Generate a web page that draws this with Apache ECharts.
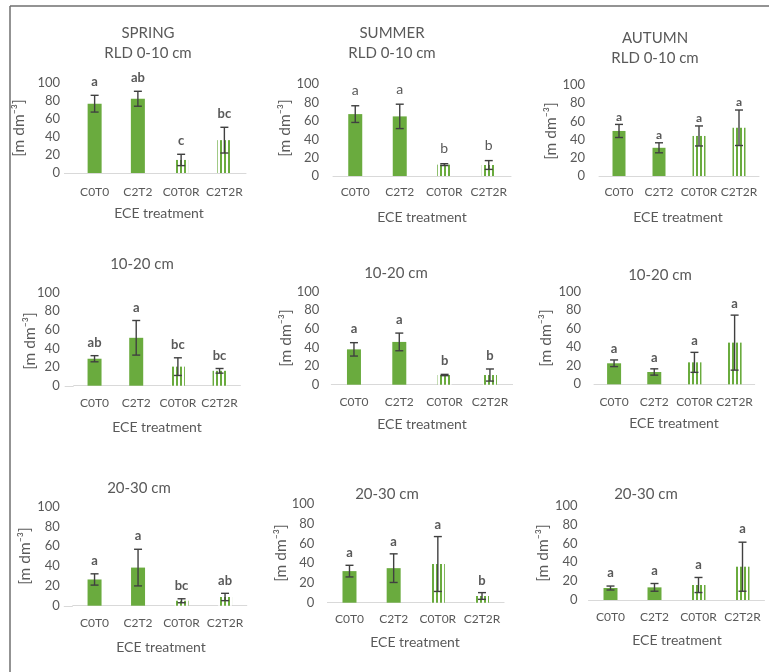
<!DOCTYPE html>
<html>
<head>
<meta charset="utf-8">
<script src="https://cdn.jsdelivr.net/npm/echarts@6/dist/echarts.min.js"></script>
<style>
  html, body { margin: 0; padding: 0; background: #fff; }
  #chart { width: 769px; height: 672px; }
</style>
</head>
<body>
<div id="chart"></div>
<script>
// Root length density (RLD) by season, soil depth and ECE treatment
const treatments = ['C0T0', 'C2T2', 'C0T0R', 'C2T2R'];
const seasons = ['SPRING', 'SUMMER', 'AUTUMN'];
const depthTitles = ['RLD 0-10 cm', '10-20 cm', '20-30 cm'];
const yTicks = [0, 20, 40, 60, 80, 100];

// means [depth][treatment]
const springMean = [[77, 82.5, 14.5, 36.5], [29, 51.5, 20.5, 16], [26.5, 38.5, 5, 8.8]];
const summerMean = [[67.5, 65, 12.4, 12], [38, 46, 10.4, 10.4], [32, 35, 39.2, 6.8]];
const autumnMean = [[49.5, 31, 44, 53], [22.7, 13.3, 23.7, 45], [12.7, 13.4, 15.9, 35.3]];

// error bar half-widths [depth][treatment]
const springErr = [[9.3, 8.3, 6.3, 14.3], [3.3, 18.6, 9.5, 2.5], [5.7, 18.5, 2, 3.7]];
const summerErr = [[9.1, 13.3, 1, 4.8], [7.2, 9.5, 0.7, 6.5], [5.9, 14.5, 27.8, 3.4]];
const autumnErr = [[7.2, 5.5, 11, 19.5], [3.6, 3.4, 10.8, 29.7], [2.1, 4.1, 8, 26]];

// significance letters [depth][treatment]
const springLetters = [['a', 'ab', 'c', 'bc'], ['ab', 'a', 'bc', 'bc'], ['a', 'a', 'bc', 'ab']];
const summerLetters = [['a', 'a', 'b', 'b'], ['a', 'a', 'b', 'b'], ['a', 'a', 'a', 'b']];
const autumnLetters = [['a', 'a', 'a', 'a'], ['a', 'a', 'a', 'a'], ['a', 'a', 'a', 'a']];

const means = [springMean, summerMean, autumnMean];
const errs = [springErr, summerErr, autumnErr];
const letters = [springLetters, summerLetters, autumnLetters];

const GREEN = '#6aab3e';
const TEXT = '#595959';
const FONT = 'Lato, "Liberation Sans", sans-serif';

// plot boxes [depth][season]; ext = how far the category axis line runs left of the plot
const boxes = [
  [
    { left: 73, top: 83, width: 173, height: 90, xl: 13.5, yl: 13, gap: 13.5, ext: 9, title: [148, 33], yname: [19, 128], xname: [159, 213] },
    { left: 333, top: 84.3, width: 178, height: 91.7, xl: 10.5, yl: 14, gap: 15, ext: 0, title: [392, 33], yname: [285, 128], xname: [422, 217], plain: true },
    { left: 599, top: 85, width: 160, height: 91, xl: 10.5, yl: 14, gap: 7.5, ext: 0, title: [655, 38], yname: [551, 131], xname: [678, 217], small: true }
  ],
  [
    { left: 73.7, top: 292.7, width: 166.7, height: 93, xl: 11.5, yl: 14, gap: 12.5, ext: 9, title: [142, 264], yname: [30, 341], xname: [157, 427] },
    { left: 331.3, top: 291.7, width: 181.3, height: 93, xl: 11.5, yl: 12, gap: 13.5, ext: 0, title: [396, 273], yname: [286, 338], xname: [422, 424] },
    { left: 594, top: 291.7, width: 160.7, height: 92.6, xl: 12, yl: 13, gap: 11.5, ext: 0, title: [660, 275], yname: [546, 338], xname: [674, 423] }
  ],
  [
    { left: 72.8, top: 506.7, width: 174, height: 99, xl: 11.5, yl: 13, gap: 13, ext: 9, title: [139, 488], yname: [25, 556], xname: [161, 647] },
    { left: 327.4, top: 504, width: 176.7, height: 98.7, xl: 10.5, yl: 13, gap: 12, ext: 0, title: [387, 494], yname: [281, 553], xname: [415, 642] },
    { left: 588.5, top: 505.7, width: 176, height: 94.3, xl: 11.5, yl: 11, gap: 13, ext: 0, title: [646, 494], yname: [543, 553], xname: [677, 640] }
  ]
];

// vertical stripe fill for the "R" treatments
function stripes() {
  const c = document.createElement('canvas');
  c.width = 4; c.height = 4;
  const ctx = c.getContext('2d');
  ctx.fillStyle = '#ffffff';
  ctx.fillRect(0, 0, 4, 4);
  ctx.fillStyle = GREEN;
  ctx.fillRect(0, 0, 2, 4);
  return c;
}
const stripeFill = { image: stripes(), repeat: 'repeat' };

const grid = [], xAxis = [], yAxis = [], series = [], graphic = [];

graphic.push({ type: 'line', shape: { x1: 10, y1: 6, x2: 769, y2: 6 }, style: { stroke: '#6f6f6f', lineWidth: 1.5 } });
graphic.push({ type: 'line', shape: { x1: 10, y1: 6, x2: 10, y2: 672 }, style: { stroke: '#6f6f6f', lineWidth: 1.5 } });

function label(x, y, text, font, rotation) {
  graphic.push({
    type: 'text', x: x, y: y, rotation: rotation || 0,
    style: { text: text, font: font, fill: TEXT, textAlign: 'center', textVerticalAlign: 'middle', align: 'center', verticalAlign: 'middle' }
  });
}

let idx = 0;
for (let d = 0; d < 3; d++) {
  for (let s = 0; s < 3; s++) {
    const b = boxes[d][s];
    grid.push({ left: b.left, top: b.top, width: b.width, height: b.height, outerBoundsMode: 'none', containLabel: false });
    xAxis.push({
      type: 'category', gridIndex: idx, data: treatments,
      axisLine: { lineStyle: { color: '#d9d9d9', width: 1 } },
      axisTick: { show: false },
      axisLabel: { color: TEXT, fontSize: 12, fontFamily: FONT, margin: b.xl, interval: 0 }
    });
    yAxis.push({
      type: 'value', gridIndex: idx, min: yTicks[0], max: yTicks[yTicks.length - 1],
      interval: yTicks[1] - yTicks[0],
      splitLine: { show: false }, axisLine: { show: false }, axisTick: { show: false },
      axisLabel: { color: TEXT, fontSize: 13, fontFamily: FONT, margin: b.yl }
    });
    if (b.ext) {
      const yb = Math.round(b.top + b.height) + 0.5;
      graphic.push({ type: 'line', shape: { x1: b.left - b.ext, y1: yb, x2: b.left, y2: yb }, style: { stroke: '#d9d9d9', lineWidth: 1 } });
    }

    const m = means[s][d];
    series.push({
      type: 'bar', xAxisIndex: idx, yAxisIndex: idx, barWidth: b.small ? 13 : 14,
      silent: true, animation: false,
      data: m.map((v, i) => ({
        value: v,
        itemStyle: { color: treatments[i].endsWith('R') ? stripeFill : GREEN }
      }))
    });

    const e = errs[s][d];
    const L = letters[s][d];
    const letterFont = b.plain ? 'normal 14px ' + FONT : (b.small ? 'bold 12px ' + FONT : 'bold 13px ' + FONT);
    const gap = b.gap;
    series.push({
      type: 'custom', xAxisIndex: idx, yAxisIndex: idx, silent: true, animation: false, z: 5,
      data: m.map((v, i) => [i, v, e[i], L[i]]),
      renderItem: function (params, api) {
        const i = api.value(0), v = api.value(1), er = api.value(2);
        const top = api.coord([i, v + er]);
        const bot = api.coord([i, v - er]);
        const cap = 4;
        const lineStyle = { stroke: '#404040', lineWidth: 1.4 };
        return {
          type: 'group',
          children: [
            { type: 'line', shape: { x1: top[0], y1: top[1], x2: bot[0], y2: bot[1] }, style: lineStyle },
            { type: 'line', shape: { x1: top[0] - cap, y1: top[1], x2: top[0] + cap, y2: top[1] }, style: lineStyle },
            { type: 'line', shape: { x1: bot[0] - cap, y1: bot[1], x2: bot[0] + cap, y2: bot[1] }, style: lineStyle },
            {
              type: 'text', x: top[0], y: top[1] - gap,
              style: {
                text: L[i], font: letterFont, fill: TEXT,
                textAlign: 'center', textVerticalAlign: 'middle', align: 'center', verticalAlign: 'middle'
              }
            }
          ]
        };
      }
    });

    // panel headings and axis names
    if (d === 0) {
      label(b.title[0], b.title[1], seasons[s], '15px ' + FONT);
      label(b.title[0], b.title[1] + 20, depthTitles[d], '15px ' + FONT);
    } else {
      label(b.title[0], b.title[1], depthTitles[d], '15px ' + FONT);
    }
    label(b.yname[0], b.yname[1], '[m dm\u207B\u00B3]', '15.5px ' + FONT, Math.PI / 2);
    label(b.xname[0], b.xname[1], 'ECE treatment', '14px ' + FONT);
    idx++;
  }
}

const chart = echarts.init(document.getElementById('chart'), null, { renderer: 'canvas' });
chart.setOption({
  backgroundColor: '#ffffff',
  animation: false,
  grid: grid, xAxis: xAxis, yAxis: yAxis, series: series, graphic: graphic
});
</script>
</body>
</html>
